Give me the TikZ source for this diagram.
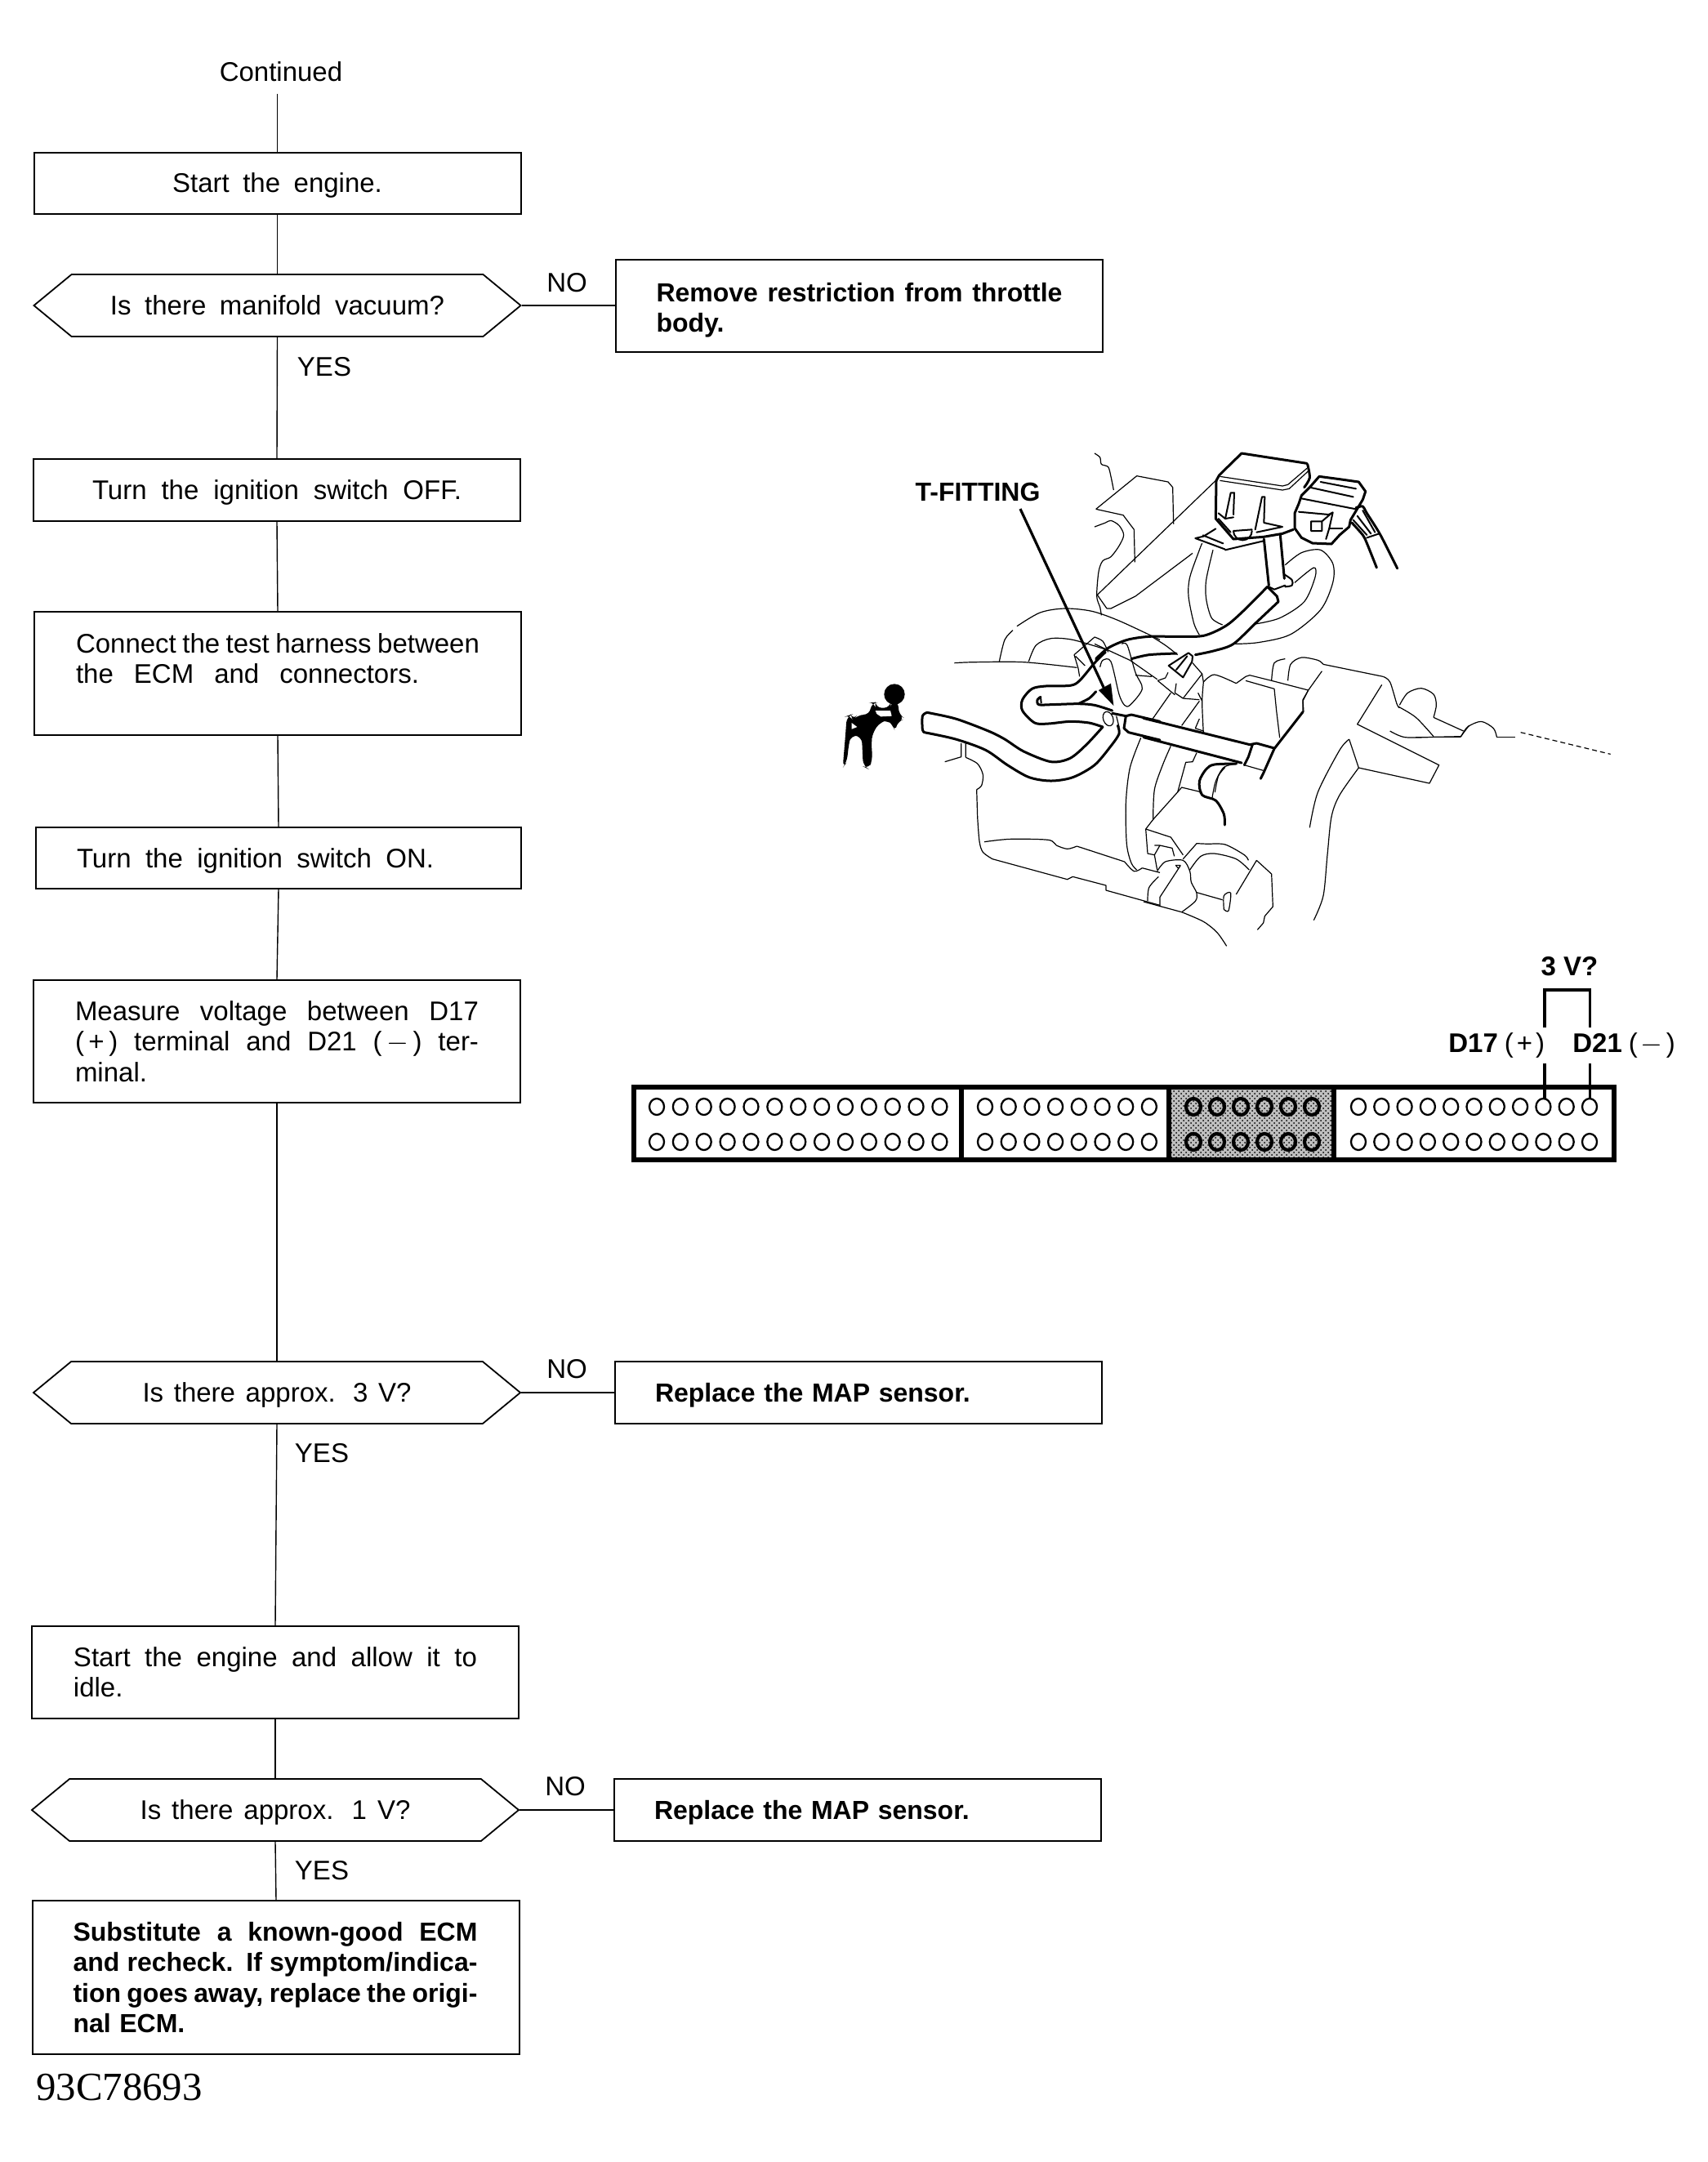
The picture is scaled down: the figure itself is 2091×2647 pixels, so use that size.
\documentclass[tikz,border=0pt]{standalone}
\usepackage{fontspec}
\setmainfont{Liberation Sans}
\newfontfamily\serifnum{Liberation Serif}
\usetikzlibrary{shapes.symbols,patterns}
\newcommand{\js}[2][247pt]{\makebox[#1][s]{\spaceskip=.3em plus 1.5em minus .2em\relax #2}}
\newcommand{\basef}{\fontsize{16.5pt}{18.6pt}\selectfont\spaceskip=.5em\relax}
\newcommand{\boldf}{\fontsize{16pt}{18.6pt}\selectfont\bfseries\spaceskip=.42em\relax}
\newcommand{\smp}[2][]{\draw[#1] plot[smooth] coordinates {#2};}
\tikzset{
  boxnode/.style={draw,line width=1pt,inner sep=0pt,minimum width=298pt,align=left,text width=247pt,font=\basef},
  plainbox/.style={draw,line width=1pt,inner sep=0pt,minimum width=298pt,align=center,font=\basef,text depth=0pt},
  hexnode/.style={draw,line width=.9pt,inner sep=0pt,shape=signal,signal to=west and east,signal pointer angle=79,minimum width=298pt,minimum height=38pt,align=center,font=\basef,text depth=0pt},
  endbox/.style={draw,line width=1pt,inner sep=0pt,minimum width=298pt,align=left,text width=248.5pt,font=\boldf},
  lab/.style={inner sep=0pt,font=\basef},
  blab/.style={inner sep=0pt,font=\fontsize{16.5pt}{18pt}\selectfont\bfseries},
  link/.style={line width=.7pt},
  fine/.style={line width=.6pt,line join=round},
  medline/.style={line width=1pt,line join=round,line cap=round},
  heavy/.style={line width=1.5pt,line join=round,line cap=round},
  hole/.style={line width=1.15pt},
  holedark/.style={line width=2.1pt},
  probe/.style={line width=1.6pt},
  crop/.style={x=.16667pt,y=-.16667pt},
}
\begin{document}
\begin{tikzpicture}[x=.5pt,y=-.5pt]
\useasboundingbox (0,0) rectangle (2091,2647);
% ---------- flowchart ----------
\node[lab] (cont) at (344,88) {Continued};
\node[plainbox,minimum height=37.5pt] (s1) at (339.5,224) {Start the engine.};
\node[hexnode] (d1) at (339.5,374) {Is there manifold vacuum?};
\node[plainbox,minimum height=38pt] (s2) at (339,600) {\js[226pt]{Turn the ignition switch OFF.}};
\node[boxnode,minimum height=75.5pt] (s3) at (340,824.5) {\js{Connect the test harness between}\\\js[210pt]{the ECM and connectors.}\\\mbox{}};
\node[boxnode,text depth=0pt,minimum width=297pt,minimum height=37.5pt] (s4) at (341,1050.5) {\js[218.6pt]{Turn the ignition switch ON.}};
\node[boxnode,minimum height=75pt] (s5) at (339,1275) {\js{Measure voltage between D17}\\\js{(\,+\,) terminal and D21 (\,$-$\,) ter-}\\minal.};
\node[hexnode] (d2) at (339,1705) {\js[164.5pt]{Is there approx. 3 V?}};
\node[boxnode,minimum height=56.5pt] (s6) at (337,2047.5) {\js{Start the engine and allow it to}\\idle.};
\node[hexnode] (d3) at (337,2216) {\js[165.4pt]{Is there approx. 1 V?}};
\node[endbox,minimum height=94pt] (e4) at (338,2421) {\js[247.5pt]{Substitute a known-good ECM}\\\js[247.5pt]{and recheck. If symptom/indica-}\\\js[247.5pt]{tion goes away, replace the origi-}\\nal ECM.};
\node[endbox,minimum height=56.5pt] (e1) at (1052,374.5) {\rule{0pt}{17pt}\js[248.5pt]{Remove restriction from throttle}\\body.};
\node[endbox,minimum height=38pt,text depth=0pt] (e2) at (1050.5,1705) {Replace the MAP sensor.};
\node[endbox,minimum height=38pt,text depth=0pt] (e3) at (1049.5,2216) {Replace the MAP sensor.};
\node[lab] (no1) at (694,346) {NO};
\node[lab] (no2) at (694,1676) {NO};
\node[lab] (no3) at (692,2187) {NO};
\node[lab] (yes1) at (397,449) {YES};
\node[lab] (yes2) at (394,1779) {YES};
\node[lab] (yes3) at (394,2290) {YES};
\node[inner sep=0pt,font=\serifnum\fontsize{24.4pt}{26pt}\selectfont] (code) at (146,2555) {93C78693};
\draw[link,shorten <=7pt] (cont.south -| s1.north) -- (s1.north);
\draw[link] (s1.south) -- (d1.north);
\draw[link] (d1.south) -- (s2.north);
\draw[link] (s2.south) -- (s3.north);
\draw[link] (s3.south) -- (s4.north);
\draw[link] (s4.south) -- (s5.north);
\draw[link] (s5.south) -- (d2.north);
\draw[link] (d2.south) -- (s6.north);
\draw[link] (s6.south) -- (d3.north);
\draw[link] (d3.south) -- (e4.north);
\draw[link] (d1.east) -- (d1.east -| e1.west);
\draw[link] (d2.east) -- (d2.east -| e2.west);
\draw[link] (d3.east) -- (d3.east -| e3.west);
% ---------- connector block ----------
\fill[gray!50] (1431,1331) rectangle (1633,1419);
\fill[pattern=crosshatch dots,pattern color=black] (1431,1331) rectangle (1633,1419);
\draw[line width=2.8pt] (776,1331) rectangle (1976,1420);
\draw[line width=2.6pt] (1177,1331) -- (1177,1420) (1431,1331) -- (1431,1420) (1633,1331) -- (1633,1420);
\foreach \r in {1355,1398}{
  \foreach \i in {0,...,12} \draw[hole] ({804+\i*28.87},\r) ellipse [x radius=9,y radius=10];
  \foreach \i in {0,...,7} \draw[hole] ({1206+\i*28.7},\r) ellipse [x radius=9,y radius=10];
  \foreach \i in {0,...,5} \draw[holedark] ({1461+\i*29},\r) ellipse [x radius=9,y radius=10];
  \foreach \i in {0,...,10} \draw[hole] ({1663+\i*28.3},\r) ellipse [x radius=9,y radius=10];
}
\node[blab] (vq) at (1921.5,1183) {3 V?};
\node[blab,anchor=west] (dp) at (1773,1280) {D17\hspace{4pt}{\mdseries(\hspace{2pt}+\hspace{2pt})}};
\node[blab,anchor=west] (dm) at (1925,1280) {D21\hspace{4pt}{\mdseries(\hspace{2pt}$-$\hspace{2pt})}};
\coordinate (h17) at (1891,1345);
\coordinate (h21) at (1946.5,1345);
\coordinate (t17) at (1891,1212);
\coordinate (t21) at (1946.5,1212);
\coordinate (m17) at (1891,1258);
\coordinate (m21) at (1946.5,1258);
\coordinate (n17) at (1891,1302);
\coordinate (n21) at (1946.5,1302);
\draw[probe] (m17) -- (t17) -- (t21) -- (m21);
\draw[probe] (n17) -- (h17) (n21) -- (h21);
% ---------- engine illustration ----------
\node[inner sep=0pt,font=\fontsize{16pt}{18pt}\selectfont\bfseries] (tf) at (1197,602) {T-FITTING};
% upper part, crop at (1340,540)
\begin{scope}[shift={(1340,540)},crop]
\begin{scope}[fine]
\smp{(0,45) (20,60) (25,85) (50,95) (60,130) (70,180)}
\draw (5,250) -- (155,128) -- (270,150) -- (287,170) -- (290,305);
\draw (5,250) -- (105,272) -- (145,325) -- (148,445);
\smp{(0,315) (40,300) (60,292) (90,310) (107,345) (90,385) (60,425) (30,440) (15,480) (8,570) (20,610) (25,640)}
\draw (445,145) -- (10,565) -- (45,615) -- (60,615) -- (150,570) -- (360,412);
\smp{(395,375) (385,400) (350,500) (345,570) (365,670) (385,712)}
\smp{(435,400) (410,510) (410,580) (430,650) (470,675)}
\smp{(700,455) (760,410) (830,400) (875,450) (875,520) (830,620) (720,710) (600,740) (510,745)}
\smp{(735,520) (805,465) (810,500) (770,590) (680,650) (590,672)}
\smp{(205,715) (260,750) (305,785)}
\draw (460,130) -- (690,165) -- (710,160) -- (780,100);
\draw (460,145) -- (690,180) -- (715,175) -- (785,110);
% clip lower plate
\draw (232,880) -- (260,870) -- (270,850) (360,815) -- (395,855) -- (325,945) -- (295,925) -- (300,890);
\draw (232,880) -- (295,932);
\draw (150,860) -- (210,865) (0,745) -- (130,805) -- (230,875);
\smp{(100,745) (120,750) (150,850) (175,910) (130,970) (110,970) (90,930) (60,810) (30,805) (20,830)}
\draw (395,855) -- (400,885);
\draw (325,945) -- (385,950) (380,925) -- (395,955);
\draw (210,1025) -- (280,925) (320,1045) -- (385,955);
\draw (370,1055) -- (385,1020) (370,1055) -- (400,1065);
% throttle body
\smp{(400,885) (440,858) (520,890)}
\draw (520,890) -- (555,865) -- (570,860) -- (650,880) -- (785,915) -- (835,845);
\smp{(400,885) (395,960) (400,1075)}
\draw (555,880) -- (660,910) -- (668,990) -- (680,1090);
\draw (785,915) -- (765,950) -- (768,995);
\smp{(650,880) (660,815) (700,800)}
\smp{(710,880) (720,820) (760,795) (820,805) (840,820)}
\draw (840,820) -- (1060,865);
\smp{(1060,865) (1085,885) (1110,965) (1120,980)}
\end{scope}
\begin{scope}[heavy]
% sensor housing
\smp{(770,170) (790,135) (782,85)}
\draw (458,125) -- (540,45) -- (780,82);
\draw (458,125) -- (447,145) -- (445,285) -- (510,360) -- (620,352) -- (690,340) -- (730,325);
\draw[medline] (480,285) -- (500,190) -- (513,190) -- (510,270);
\draw[medline] (590,325) -- (615,205) -- (625,205) -- (622,300) -- (690,315) -- (595,335);
\draw[medline] (510,330) arc[start angle=180,end angle=0,radius=34] (510,330) -- (578,325);
\draw[medline] (455,265) -- (480,285) -- (510,280) (455,285) -- (500,335);
% bracket
\draw[medline] (370,357) -- (478,397) (398,346) -- (472,376) (370,357) -- (400,350) -- (445,322) (480,400) -- (620,367);
% connector body
\draw (790,170) -- (825,130) -- (900,140) -- (970,150) -- (995,185) -- (985,215) -- (970,240) -- (940,290) -- (935,315) -- (900,345) -- (870,378) -- (800,375) -- (760,355) -- (735,320) -- (735,265) -- (750,230) -- (760,200) -- cycle;
\draw[medline] (790,170) -- (950,205) (830,150) -- (960,175) (755,210) -- (960,250) (750,260) -- (860,270) -- (875,262) -- (862,320) -- (850,360);
\draw[medline] (795,295) -- (835,295) -- (870,265) (795,295) -- (795,330) -- (835,330) -- (835,295);
\draw[medline] (862,320) -- (910,320);
% wires
\smp{(960,245) (985,240) (1000,265) (1050,345) (1112,468)}
\smp{(945,300) (985,345) (1000,375) (1036,465)}
\draw[medline] (950,290) -- (1000,345) (965,275) -- (1015,340) (985,255) -- (1030,335) (1000,355) -- (1045,340);
% stem
\draw (622,360) -- (640,530) (682,345) -- (697,505);
\smp[medline]{(697,490) (725,510) (725,530) (700,535)}
\draw (635,535) -- (670,570) -- (675,590);
\draw[medline] (640,535) -- (660,545) -- (700,530);
% hose between sensor and T
\smp{(635,535) (540,630) (480,680) (400,715) (300,718) (200,718) (120,730) (50,760) (5,800)}
\smp{(675,590) (590,670) (510,745) (440,770) (370,785)}
\smp{(135,800) (200,785) (300,780)}
% clip
\draw[medline] (272,825) -- (345,778) -- (360,790) -- (358,810) -- (325,868) -- cycle;
\draw[medline] (300,840) -- (340,790);
\end{scope}
\end{scope}
% lower-right part, crop at (1400,780)
\begin{scope}[shift={(1400,780)},crop]
\begin{scope}[heavy]
\draw (0,298) -- (390,395) -- (415,390) -- (480,408);
\draw (0,368) -- (360,462);
\draw (400,395) -- (385,440) -- (370,470);
\draw (585,275) -- (480,410) -- (440,500) -- (430,520);
\smp{(340,465) (260,468) (230,485) (205,530) (215,580) (265,600) (295,650) (298,690)}
\end{scope}
\begin{scope}[fine]
\draw (370,470) -- (440,490);
\smp{(345,465) (295,478) (265,530) (252,590)}
\smp{(300,478) (275,510) (262,570)}
\draw (215,570) -- (140,552) -- (120,575) -- (35,670) -- (8,705) -- (100,735) -- (145,800);
\draw (8,705) -- (15,795) -- (40,800) -- (50,855);
\draw (40,765) -- (60,765) -- (105,775) -- (113,805) (40,800) -- (60,765);
\smp{(35,670) (40,560) (70,470) (100,400)}
\draw (125,570) -- (155,460) -- (180,458) -- (195,425);
\smp{(50,860) (80,825) (145,820) (170,860) (175,900) (195,940) (190,970) (140,1010)}
\smp{(55,880) (20,920) (15,970)}
\draw (60,990) -- (60,955) -- (135,840) (118,838) -- (135,838) -- (128,850) -- cycle;
\draw (145,815) -- (195,758) -- (240,760);
\smp{(240,760) (300,762) (370,800) (385,820)}
\smp{(170,855) (210,805) (260,795) (340,815) (388,855)}
\draw (415,820) -- (340,945) (415,820) -- (470,870) -- (475,990) -- (445,1025) -- (440,1050) -- (418,1075);
\draw (195,938) -- (290,965);
\smp{(295,1000) (295,950) (320,940) (312,1005) (295,1000)}
\draw (0,972) -- (140,1010);
\smp{(140,1010) (220,1045) (270,1085) (305,1135)}
\draw (605,195) -- (585,235) -- (585,275);
\draw (875,175) -- (785,320) -- (1085,470) -- (1050,537) -- (790,480) -- (755,375);
\smp{(755,375) (720,415) (640,570) (610,700)}
\smp{(790,480) (720,580) (690,660) (675,800) (660,950) (625,1040)}
\smp{(935,255) (1000,295) (1065,365)}
\smp{(940,250) (970,205) (1020,188) (1065,210) (1075,250) (1065,295)}
\draw (1065,295) -- (1175,345);
\smp{(905,345) (960,368) (1065,367)}
\draw (1065,367) -- (1165,365) -- (1195,325);
\end{scope}
\end{scope}
% far right, crop at (1700,840)
\begin{scope}[shift={(1700,840)},crop]
\begin{scope}[fine]
\draw (100,187) -- (265,187);
\smp{(265,187) (290,150) (340,130) (385,155) (397,187)}
\draw (397,187) -- (465,187);
\draw[densely dashed] (485,170) -- (815,250);
\end{scope}
\end{scope}
% left part, crop at (1020,740)
\begin{scope}[shift={(1020,740)},crop]
\coordinate (tftail) at (687,-351);
\coordinate (tfneck) at (998,315);
\coordinate (tftip) at (1030,372);
\draw[line width=1.6pt] (tftail) -- (tfneck);
\fill (tftip) -- (975,315) -- (1020,290) -- cycle;
% gauge
\fill (225,330) circle [radius=38];
\fill[rounded corners=4pt] (50,410) -- (65,405) -- (72,425) -- (90,405) -- (135,405) -- (140,360) -- (155,360) -- (155,380) -- (210,380) -- (212,355) -- (240,355) -- (240,405) -- (265,420) -- (235,430) -- (228,468) -- (218,440) -- (200,425) -- (175,430) -- (145,470) -- (140,510) -- (145,570) -- (130,605) -- (110,595) -- (105,485) -- (65,480) -- (58,510) -- (50,580) -- (35,600) -- (45,480) -- cycle;
\fill[white] (155,390) -- (210,390) -- (215,410) -- (175,412) -- (160,402) -- cycle;
\fill[white] (68,435) -- (88,450) -- (68,458) -- cycle;
\begin{scope}[heavy]
\smp{(345,397) (450,420) (570,465) (630,495) (700,540) (800,578) (870,565) (930,515) (990,450)}
\smp{(335,470) (450,495) (560,535) (640,590) (720,635) (800,648) (880,635) (960,590) (1020,520) (1050,475) (1045,445)}
\smp{(345,397) (328,410) (328,460) (335,470)}
\smp{(1000,175) (960,215) (905,280) (870,298) (780,300) (730,310) (695,350) (695,390) (740,435) (790,438) (870,430) (940,435) (990,450)}
\smp{(762,340) (750,350) (755,368) (800,368) (900,365) (960,370) (1025,390)}
\draw[medline] (762,340) -- (764,362);
\smp{(900,365) (940,345) (965,320)}
\draw (1025,400) -- (1075,410) -- (1095,405) -- (1200,430);
\draw (1075,410) -- (1068,455) -- (1085,470) -- (1200,498);
\end{scope}
\begin{scope}[fine]
\draw[rotate around={20:(1010,420)}] (1010,420) ellipse [x radius=18,y radius=27];
\draw (1040,410) -- (1050,450);
\smp{(445,215) (520,212) (700,212) (895,232)}
\smp{(610,210) (630,130) (660,95)}
\smp{(675,80) (760,30) (850,15) (950,25) (1050,60) (1200,130)}
\smp{(718,210) (745,150) (800,125) (880,130) (1000,165)}
\draw (885,185) -- (960,120) (885,185) -- (900,235) -- (905,265) (890,190) -- (925,225);
\smp{(960,120) (990,135) (1010,175)}
\draw (470,510) -- (470,560) -- (410,578) (487,510) -- (487,562);
\smp{(487,562) (530,585) (550,625) (545,665) (527,680)}
\draw (527,680) -- (530,780);
\smp{(530,780) (537,870) (550,910) (585,935)}
\draw (585,935) -- (860,1010) -- (880,1000) -- (1002,1032) -- (1002,1050) -- (1200,1105);
\smp{(555,872) (650,862) (790,865) (820,885) (860,898) (895,888)}
\draw (895,888) -- (1070,945);
\smp{(1070,945) (1105,980) (1135,968)}
\draw (1135,968) -- (1200,985);
\smp{(1130,490) (1090,600) (1075,730) (1078,880) (1095,950) (1115,975)}
\end{scope}
\end{scope}
\end{tikzpicture}
\end{document}
